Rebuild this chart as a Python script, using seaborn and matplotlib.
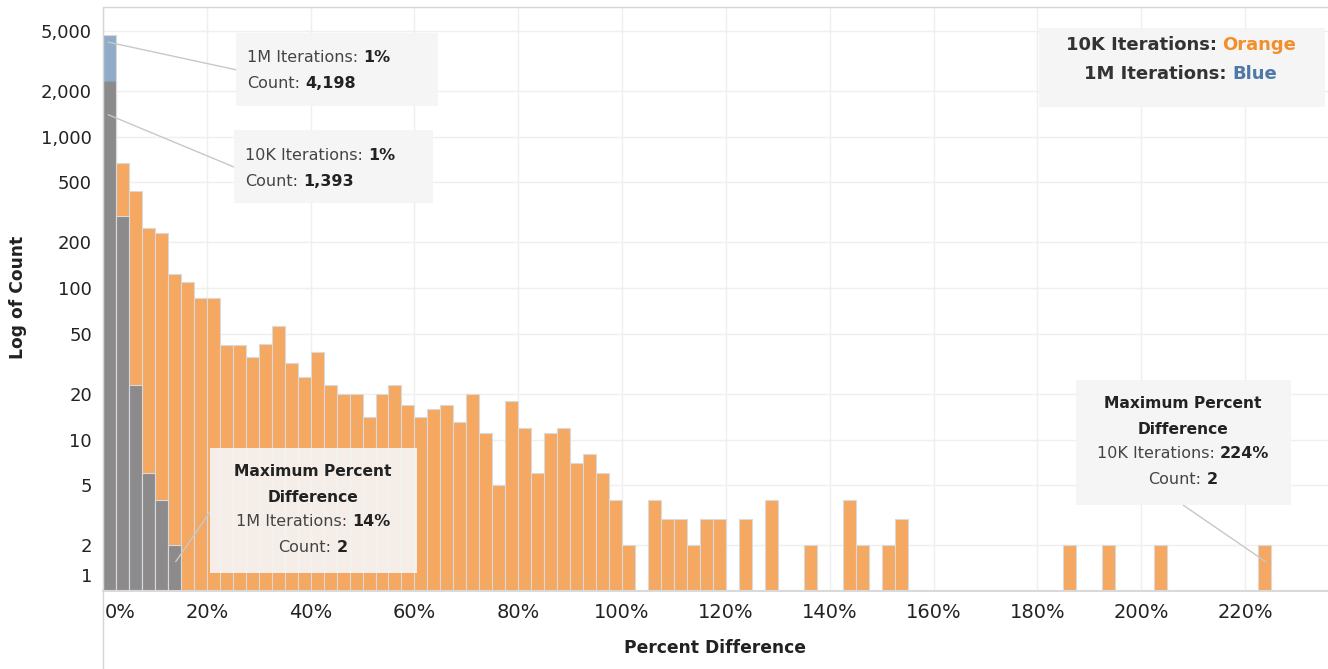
import numpy as np
import pandas as pd
import seaborn as sns
import matplotlib.pyplot as plt
from matplotlib.patches import Rectangle
from matplotlib.lines import Line2D
from matplotlib.ticker import NullLocator

# ---------------------------------------------------------------- data
# Histogram bins (left edge, % difference) and their counts
PCT_BIN_10K = [0, 2.5, 5, 7.5, 10, 12.5, 15, 17.5, 20, 22.5, 25, 27.5, 30, 32.5,
               35, 37.5, 40, 42.5, 45, 47.5, 50, 52.5, 55, 57.5, 60, 62.5, 65,
               67.5, 70, 72.5, 75, 77.5, 80, 82.5, 85, 87.5, 90, 92.5, 95, 97.5,
               100, 105, 107.5, 110, 112.5, 115, 117.5, 122.5, 127.5, 135,
               142.5, 145, 150, 152.5, 185, 192.5, 202.5, 222.5]
COUNT_10K = [2330, 670, 440, 250, 230, 123, 110, 86, 86, 42, 42, 35, 43, 56,
             32, 26, 38, 23, 20, 20, 14, 20, 23, 17, 14, 16, 17,
             13, 20, 11, 5, 18, 12, 6, 11, 12, 7, 8, 6, 4,
             2, 4, 3, 3, 2, 3, 3, 3, 4, 2,
             4, 2, 2, 3, 2, 2, 2, 2]

PCT_BIN_1M = [0, 2.5, 5, 7.5, 10, 12.5]
COUNT_1M = [4700, 300, 23, 6, 4, 2]

# Call-out values
MODE_PCT = 1
MODE_COUNT_1M = 4198
MODE_COUNT_10K = 1393
MAX_PCT_1M, MAX_COUNT_1M = 14, 2
MAX_PCT_10K, MAX_COUNT_10K = 224, 2

Y_TICKS = [1, 2, 5, 10, 20, 50, 100, 200, 500, 1000, 2000, 5000]
X_TICKS = [0, 20, 40, 60, 80, 100, 120, 140, 160, 180, 200, 220]

BIN_WIDTH = 2.5

# ---------------------------------------------------------------- style
ORANGE = "#F4A862"
BLUE = "#4E79A7"
ORANGE_TXT = "#F28E2B"
EDGE = "#DADADA"
GRID = "#EFEFEF"
DARK = "#222222"
MID = "#444444"

sns.set_style("white")
plt.rcParams["font.family"] = ["DejaVu Sans"]

W, H = 1328, 669


def fx(px):
    return px / W


def fy(py):
    return 1 - py / H


fig = plt.figure(figsize=(W / 100, H / 100), dpi=100)
ax = fig.add_axes([fx(103), fy(591), (1328 - 103) / W, (591 - 7) / H])

edges = [float(e) for e in np.arange(0, 240 + BIN_WIDTH, BIN_WIDTH)]
df10 = pd.DataFrame({"pct": np.array(PCT_BIN_10K) + BIN_WIDTH / 2, "count": COUNT_10K})
df1m = pd.DataFrame({"pct": np.array(PCT_BIN_1M) + BIN_WIDTH / 2, "count": COUNT_1M})

sns.histplot(data=df10, x="pct", weights="count", bins=edges, color=ORANGE,
             alpha=1, edgecolor=EDGE, linewidth=0.8, ax=ax, zorder=2)
sns.histplot(data=df1m, x="pct", weights="count", bins=edges, color=BLUE,
             alpha=0.62, edgecolor=EDGE, linewidth=0.8, ax=ax, zorder=3)

ax.set_yscale("log")
ax.set_xlim(0, 236)
ax.set_ylim(1, 7160)
ax.yaxis.set_minor_locator(NullLocator())
ax.set_axisbelow(True)
ax.grid(True, color=GRID, lw=1)

ax.set_yticks(Y_TICKS)
ax.set_yticklabels(["" if t == 1 else f"{t:,}" for t in Y_TICKS])
ax.set_xticks(X_TICKS)
ax.set_xticklabels(["" if t == 0 else f"{t}%" for t in X_TICKS])
ax.tick_params(axis="y", length=0, pad=8, labelsize=13, labelcolor=DARK)
ax.tick_params(axis="x", length=0, pad=9, labelsize=14, labelcolor=DARK)

# edge tick labels nudged inside the plot frame
ax.annotate("1", xy=(0, Y_TICKS[0]), xycoords=("axes fraction", "data"),
            xytext=(-8, 11.5), textcoords="offset points", ha="right",
            va="center_baseline", fontsize=13, color=DARK)
ax.annotate(f"{X_TICKS[0]}%", xy=(X_TICKS[0], 0), xycoords=("data", "axes fraction"),
            xytext=(1, -9), textcoords="offset points", ha="left", va="top",
            fontsize=14, color=DARK)

for s in ["top", "right", "left"]:
    ax.spines[s].set_visible(False)
ax.spines["bottom"].set_color("#D9D9D9")
ax.spines["bottom"].set_linewidth(1.5)
ax.spines["bottom"].set_zorder(6)

ax.set_xlabel("Percent Difference", fontsize=12.3, fontweight="bold", color=DARK, va="center")
ax.xaxis.set_label_coords((715 - 103) / 1225, (591 - 648) / 584)
ax.set_ylabel("Log of Count", fontsize=12.3, fontweight="bold", color=DARK, va="center")
ax.yaxis.set_label_coords((18 - 103) / 1225, (591 - 297) / 584)

# frame lines of the pane
fig.add_artist(Line2D([fx(103), fx(1328)], [fy(7), fy(7)], transform=fig.transFigure,
                      color="#D6D6D6", lw=1))
fig.add_artist(Line2D([fx(103), fx(103)], [fy(7), fy(669)], transform=fig.transFigure,
                      color="#D6D6D6", lw=1))

# ---------------------------------------------------------------- call-outs
renderer = fig.canvas.get_renderer()


def text_width(s, **kw):
    t = fig.text(0, 0, s, **kw)
    w = t.get_window_extent(renderer).width
    t.remove()
    return w


def rich_line(x, y, parts, align="left", size=11.5):
    space = text_width("a a", fontsize=size) - text_width("aa", fontsize=size)
    widths = [text_width(s, fontsize=size, fontweight=w) for s, w, c in parts]
    total = sum(widths) + space * (len(parts) - 1)
    cur = x - total / 2 if align == "center" else x
    for (s, w, c), wd in zip(parts, widths):
        fig.text(fx(cur), fy(y), s, fontsize=size, fontweight=w, color=c,
                 ha="left", va="center", zorder=6)
        cur += wd + space


def box(x0, y0, x1, y1):
    fig.add_artist(Rectangle((fx(x0), fy(y1)), (x1 - x0) / W, (y1 - y0) / H,
                             transform=fig.transFigure, facecolor="#F6F5F5",
                             alpha=0.92, edgecolor="none", zorder=4))


def leader(xy, px, py):
    ax.annotate("", xy=xy, xycoords="data", xytext=(fx(px), fy(py)),
                textcoords="figure fraction", annotation_clip=False,
                arrowprops=dict(arrowstyle="-", color="#C8C8C8", lw=1,
                                shrinkA=0, shrinkB=0), zorder=5)


# most common difference, 1M iterations
leader((MODE_PCT, MODE_COUNT_1M), 237, 70)
box(236, 33, 438, 106)
rich_line(247, 57, [("1M Iterations:", "normal", MID), (f"{MODE_PCT}%", "bold", DARK)])
rich_line(247, 83, [("Count:", "normal", MID), (f"{MODE_COUNT_1M:,}", "bold", DARK)])

# most common difference, 10K iterations
leader((MODE_PCT, MODE_COUNT_10K), 234, 167)
box(234, 130, 433, 203)
rich_line(245, 155, [("10K Iterations:", "normal", MID), (f"{MODE_PCT}%", "bold", DARK)])
rich_line(245, 181, [("Count:", "normal", MID), (f"{MODE_COUNT_10K:,}", "bold", DARK)])

# maximum difference, 1M iterations
leader((MAX_PCT_1M, MAX_COUNT_1M * 0.78), 210, 512)
box(210, 448, 417, 573)
rich_line(313, 471, [("Maximum Percent", "bold", DARK)], align="center", size=11.2)
rich_line(313, 497, [("Difference", "bold", DARK)], align="center", size=11.2)
rich_line(313, 522, [("1M Iterations:", "normal", MID), (f"{MAX_PCT_1M}%", "bold", DARK)], align="center")
rich_line(313, 548, [("Count:", "normal", MID), (f"{MAX_COUNT_1M}", "bold", DARK)], align="center")

# maximum difference, 10K iterations
leader((MAX_PCT_10K, MAX_COUNT_10K * 0.78), 1183, 505)
box(1076, 380, 1291, 505)
rich_line(1183, 403, [("Maximum Percent", "bold", DARK)], align="center", size=11.2)
rich_line(1183, 429, [("Difference", "bold", DARK)], align="center", size=11.2)
rich_line(1183, 454, [("10K Iterations:", "normal", MID), (f"{MAX_PCT_10K}%", "bold", DARK)], align="center")
rich_line(1183, 480, [("Count:", "normal", MID), (f"{MAX_COUNT_10K}", "bold", DARK)], align="center")

# colour key
box(1039, 28, 1325, 107)
rich_line(1181, 45, [("10K Iterations:", "bold", "#333333"), ("Orange", "bold", ORANGE_TXT)],
          align="center", size=13)
rich_line(1181, 74, [("1M Iterations:", "bold", "#333333"), ("Blue", "bold", BLUE)],
          align="center", size=13)

fig.savefig("out.png", dpi=100)
